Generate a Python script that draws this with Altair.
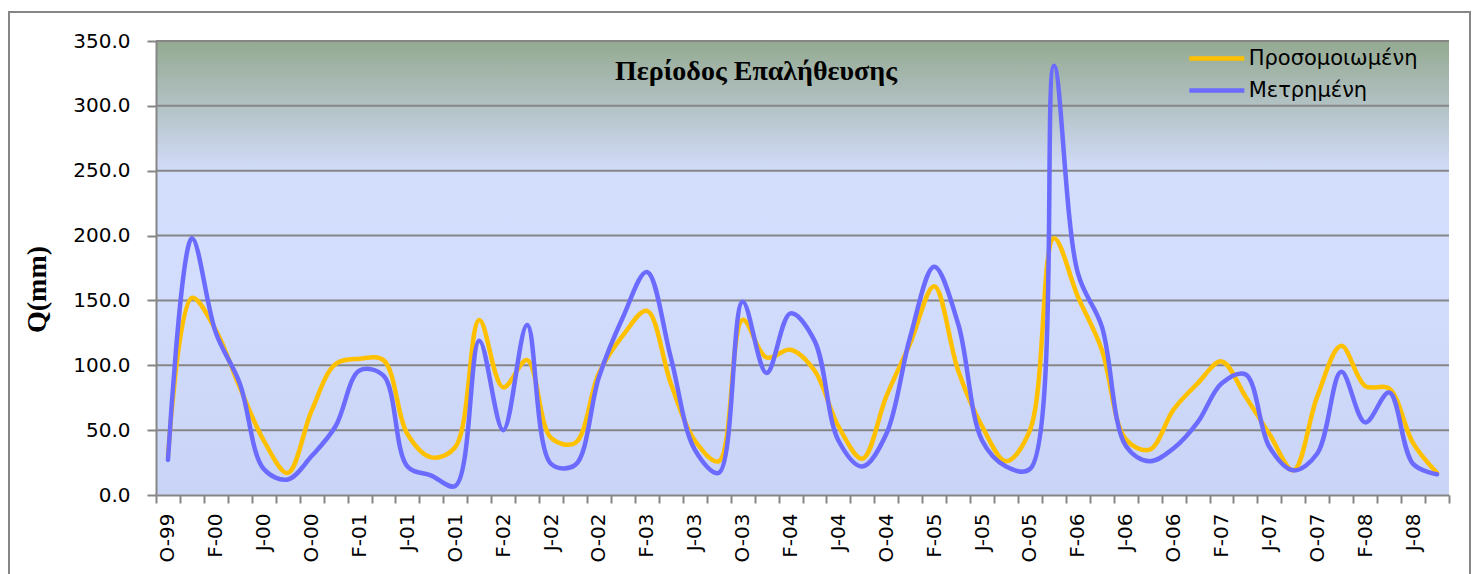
import altair as alt
import pandas as pd

# ---- data ----
labels = [
    "O-99", "D-99", "F-00", "A-00", "J-00", "A-00",
    "O-00", "D-00", "F-01", "A-01", "J-01", "A-01",
    "O-01", "D-01", "F-02", "A-02", "J-02", "A-02",
    "O-02", "D-02", "F-03", "A-03", "J-03", "A-03",
    "O-03", "D-03", "F-04", "A-04", "J-04", "A-04",
    "O-04", "D-04", "F-05", "A-05", "J-05", "A-05",
    "O-05", "D-05", "F-06", "A-06", "J-06", "A-06",
    "O-06", "D-06", "F-07", "A-07", "J-07", "A-07",
    "O-07", "D-07", "F-08", "A-08", "J-08", "A-08",
]
simulated = [
    30, 152, 127, 83, 42, 17,
    65, 101, 105, 104, 47, 29,
    37, 135, 83, 104, 44, 40,
    94, 123, 142, 86, 42, 26,
    135, 106, 112, 96, 53, 28,
    76, 117, 161, 96, 53, 26,
    50, 198, 153, 112, 43, 35,
    66, 86, 103, 76, 47, 19,
    76, 115, 84, 82, 40, 17,
]
measured = [
    27, 198, 125, 86, 20, 12,
    30, 53, 96, 92, 22, 15,
    7, 119, 50, 131, 24, 23,
    91, 137, 172, 106, 35, 17,
    149, 94, 140, 119, 42, 22,
    47, 122, 176, 132, 42, 22,
    20, 331, 171, 130, 38, 26,
    36, 56, 86, 93, 37, 19,
    32, 95, 56, 79, 24, 16,
]
series_names = ["Προσομοιωμένη", "Μετρημένη"]
series_colors = ["#ffc000", "#6b6bff"]
y_ticks = [0, 50, 100, 150, 200, 250, 300, 350]
grid_values = [50, 100, 150, 200, 250, 300, 350]
chart_title = "Περίοδος Επαλήθευσης"
y_title = "Q(mm)"

keys = [f"{i:02d}{lab}" for i, lab in enumerate(labels)]
n = len(keys)
df = pd.DataFrame({
    "key": keys * 2,
    "series": [series_names[0]] * n + [series_names[1]] * n,
    "Q": simulated + measured,
})

W, H = 1293, 454
GRAY = "#868686"

x_enc = alt.X(
    "key:N", sort=None,
    scale=alt.Scale(type="band", paddingInner=0, paddingOuter=0),
    axis=alt.Axis(
        title=None, tickBand="extent", labelAngle=-90,
        labelExpr="parseInt(substring(datum.label,0,2)) % 2 == 0 ? substring(datum.label,2) : ''",
        labelFont="DejaVu Sans", labelFontSize=20, labelColor="black",
        tickColor=GRAY, tickSize=8, tickWidth=2,
        domainColor=GRAY, domainWidth=2, labelPadding=10, grid=False, zindex=1,
    ),
)

def y_enc(field):
    return alt.Y(
        field,
        scale=alt.Scale(domain=[0, 350], nice=False, zero=True),
        axis=alt.Axis(
            values=y_ticks, format=".1f", grid=False, title=y_title,
            titleFont="Liberation Serif", titleFontWeight="bold", titleFontSize=28,
            titleColor="black", titleX=-105, titleY=248, titleAngle=-90,
            titleAlign="center", titleBaseline="bottom",
            labelFont="DejaVu Sans", labelFontSize=20, labelColor="black",
            tickColor=GRAY, tickSize=9, tickWidth=2, labelPadding=17,
            domainColor=GRAY, domainWidth=2, zindex=1,
        ),
    )

# legend symbol: a horizontal stroke 6 units long (path scaled by sqrt(size)/2)
SYM_R = 55 / 6.0
color_enc = alt.Color(
    "series:N",
    scale=alt.Scale(domain=series_names, range=series_colors),
    legend=alt.Legend(
        title=None, orient="none", legendX=1031 + SYM_R * 2, legendY=6,
        symbolType="M-3,0H3", symbolSize=(2 * SYM_R) ** 2, symbolStrokeWidth=4.5,
        symbolFillColor="transparent",
        labelFont="DejaVu Sans", labelFontSize=21, labelColor="black",
        labelLimit=500, rowPadding=10, padding=0, labelOffset=SYM_R * 2 + 2,
    ),
)

one = pd.DataFrame({"t": [chart_title]})

background = alt.Chart(one).mark_rect(
    color=alt.Gradient(
        gradient="linear", x1=0, x2=0, y1=0, y2=1,
        stops=[
            alt.GradientStop(offset=0, color="#94aa91"),
            alt.GradientStop(offset=0.14, color="#b2c1c3"),
            alt.GradientStop(offset=0.29, color="#d3ddfc"),
            alt.GradientStop(offset=0.5, color="#d3ddfd"),
            alt.GradientStop(offset=1, color="#c9d4f6"),
        ],
    )
).encode(x=alt.value(0), x2=alt.value(W), y=alt.value(0), y2=alt.value(H))

grid = alt.Chart(pd.DataFrame({"Q": grid_values})).mark_rule(
    color=GRAY, strokeWidth=2
).encode(y=y_enc("Q:Q"))

line_sim = alt.Chart(df).transform_filter(
    alt.datum.series == series_names[0]
).mark_line(interpolate="catmull-rom", strokeWidth=4.5, strokeCap="round", strokeJoin="round").encode(
    x=x_enc, y=y_enc("Q:Q"), color=color_enc
)
line_meas = alt.Chart(df).transform_filter(
    alt.datum.series == series_names[1]
).mark_line(interpolate="catmull-rom", strokeWidth=4.5, strokeCap="round", strokeJoin="round").encode(
    x=x_enc, y=y_enc("Q:Q"), color=color_enc
)

title_mark = alt.Chart(one).mark_text(
    font="Liberation Serif", fontWeight="bold", fontSize=28, color="black",
    align="center", baseline="alphabetic",
).encode(x=alt.value(600), y=alt.value(39), text="t:N")

frame = alt.Chart(one).mark_rect(
    fillOpacity=0, stroke=GRAY, strokeWidth=2
).encode(x=alt.value(-147), x2=alt.value(1314), y=alt.value(-29), y2=alt.value(620))

chart = alt.layer(
    frame, background, grid, line_sim, line_meas, title_mark
).properties(
    width=W, height=H,
    autosize=alt.AutoSizeParams(type="none"),
    padding={"left": 156, "top": 41, "right": 29, "bottom": 79},
).configure(background="white").configure_view(stroke=None)

chart.save("out.html", embed_options={"renderer": "svg", "actions": False})
